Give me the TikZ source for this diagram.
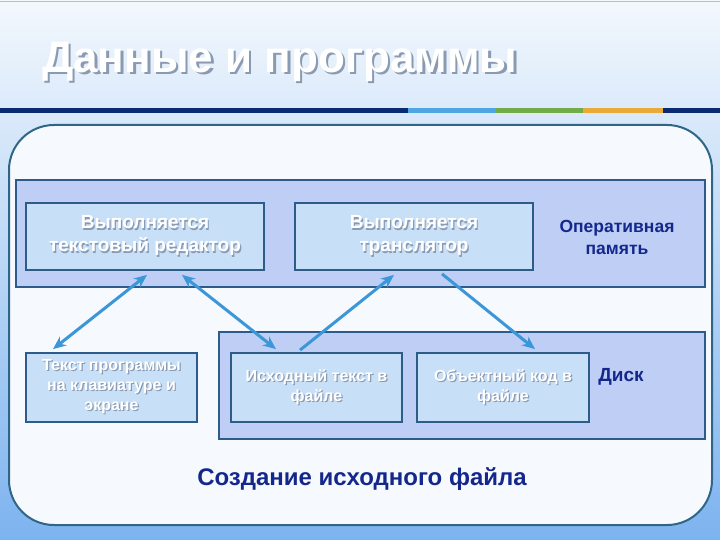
\documentclass[tikz,border=0pt]{standalone}
\usepackage{fontspec}
\setmainfont{Liberation Sans}
\usetikzlibrary{arrows.meta}
\definecolor{bgtop}{HTML}{F3F8FD}
\definecolor{bgbot}{HTML}{7DB3EF}
\definecolor{barnavy}{HTML}{0A2A72}
\definecolor{barblue}{HTML}{4FA5E2}
\definecolor{bargreen}{HTML}{72AC48}
\definecolor{barorange}{HTML}{E9AA38}
\definecolor{outerfill}{HTML}{F6F9FD}
\definecolor{outerline}{HTML}{2F6688}
\definecolor{bandfill}{HTML}{BECEF5}
\definecolor{bandline}{HTML}{2E5C8A}
\definecolor{boxfill}{HTML}{C8DFF8}
\definecolor{arrowc}{HTML}{3B97D8}
\definecolor{labnavy}{HTML}{14288C}
\definecolor{shadowc}{HTML}{8A9AB2}
\newcommand\shl[1]{\rlap{\kern1.2pt\raisebox{-1.2pt}{\textcolor{shadowc}{#1}}}#1}
\newcommand\shtitle[1]{\rlap{\kern2.5pt\raisebox{-2.5pt}{\textcolor{shadowc}{#1}}}#1}
\tikzset{
  x=1pt, y=-1pt,
  band/.style={draw=bandline, line width=1.6pt, fill=bandfill, inner sep=0pt},
  box/.style={draw=bandline, line width=1.8pt, fill=boxfill, inner sep=0pt, text=white, align=center},
  bigtxt/.style={font=\bfseries\fontsize{19}{23}\selectfont},
  smalltxt/.style={font=\bfseries\fontsize{16}{20}\selectfont},
  lab/.style={text=labnavy, align=center, font=\bfseries\fontsize{17.5}{22}\selectfont},
  conn/.style={draw=arrowc, line width=3pt},
}
\begin{document}
\begin{tikzpicture}
\useasboundingbox (0,0) rectangle (720,540);
\shade[top color=bgtop, bottom color=bgbot] (0,0) rectangle (720,540);
\draw[color=barblue!60, line width=1.5pt] (0,1.5) -- (720,1.5);
% title
\node[anchor=west, inner sep=0pt, text=white, font=\bfseries\fontsize{44}{48}\selectfont] (title) at (42,63) {\shtitle{Данные и программы}};
% bar
\fill[barnavy] (0,108) rectangle (408,113);
\fill[barblue] (408,108) rectangle (496,113);
\fill[bargreen] (496,108) rectangle (583,113);
\fill[barorange] (583,108) rectangle (663,113);
\fill[barnavy] (663,108) rectangle (720,113);
% outer frame
\draw[draw=outerline, line width=2pt, fill=outerfill, rounded corners=45pt] (9,125) rectangle (712,525);
% bands
\node[band, minimum width=689pt, minimum height=107pt] (mem) at (360.5,233.5) {};
\node[band, minimum width=486pt, minimum height=107pt] (disk) at (462,385.5) {};
% boxes
\node[box, bigtxt, minimum width=238pt, minimum height=67pt] (b1) at (145,236.5) {\shl{Выполняется}\\\shl{текстовый редактор}};
\node[box, bigtxt, minimum width=238pt, minimum height=67pt] (b2) at (414,236.5) {\shl{Выполняется}\\\shl{транслятор}};
\node[box, smalltxt, minimum width=171pt, minimum height=69pt] (b3) at (111.5,387.5) {\shl{Текст программы}\\\shl{на клавиатуре и}\\\shl{экране}};
\node[box, smalltxt, minimum width=171pt, minimum height=69pt] (b4) at (316.5,387.5) {\shl{Исходный текст в}\\\shl{файле}};
\node[box, smalltxt, minimum width=172pt, minimum height=69pt] (b5) at (503,387.5) {\shl{Объектный код в}\\\shl{файле}};
% labels
\node[lab] (lmem) at (617,237) {Оперативная\\память};
\node[lab, font=\bfseries\fontsize{19}{22}\selectfont] (ldisk) at (621,377) {Диск};
\node[lab, font=\bfseries\fontsize{24}{28}\selectfont] (lcap) at (362,479) {Создание исходного файла};
% connectors
\draw[conn, {Stealth[length=13pt,width=11pt]}-{Stealth[length=13pt,width=11pt]}] ([shift={(-58.5,-3)}]b3.north) -- ([shift={(2,4)}]b1.south);
\draw[conn, {Stealth[length=13pt,width=11pt]}-{Stealth[length=13pt,width=11pt]}] ([shift={(37,4)}]b1.south) -- ([shift={(-40.5,-3)}]b4.north);
\draw[conn, -{Stealth[length=13pt,width=11pt]}] ([shift={(-16.5,-2)}]b4.north) -- ([shift={(-20,4)}]b2.south);
\draw[conn, -{Stealth[length=13pt,width=11pt]}] ([shift={(28,3)}]b2.south) -- ([shift={(32,-3)}]b5.north);
\end{tikzpicture}
\end{document}
